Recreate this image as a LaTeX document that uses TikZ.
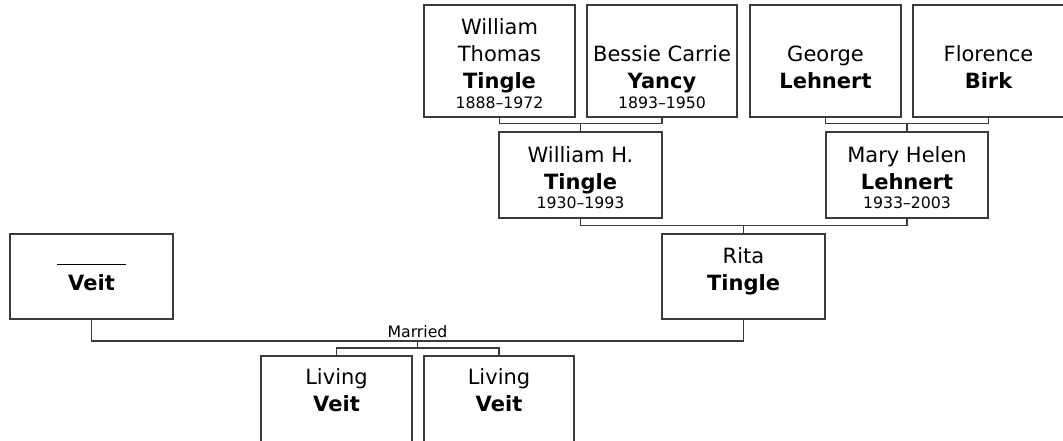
\documentclass[tikz,border=0pt]{standalone}
\usepackage{fontspec}
\setmainfont{DejaVu Sans}
\usetikzlibrary{calc}
\definecolor{lc}{HTML}{3A3A3A}
\begin{document}
\begin{tikzpicture}[x=0.75pt,y=-0.75pt,
  pbox/.style 2 args={draw=lc,line width=1.1pt,inner sep=0pt,minimum width={#1*0.75pt},minimum height={#2*0.75pt}},
  nm/.style={anchor=base,inner sep=0pt,font=\fontsize{15.75pt}{19pt}\selectfont},
  sn/.style={anchor=base,inner sep=0pt,font=\fontsize{15.75pt}{19pt}\selectfont\bfseries},
  dt/.style={anchor=base,inner sep=0pt,font=\fontsize{11.8pt}{14pt}\selectfont},
  conn/.style={draw=lc,line width=1.1pt}]
\useasboundingbox (0,0) rectangle (1063,440);
\clip (0,0) rectangle (1063,440);
% boxes
\node[pbox={151}{112}] (wt) at (499.5,61) {};
\node[pbox={150}{112}] (bc) at (662,61) {};
\node[pbox={151}{112}] (gl) at (825.5,61) {};
\node[pbox={151}{112}] (fb) at (988.5,61) {};
\node[pbox={163}{86}] (wh) at (580.5,175) {};
\node[pbox={162}{86}] (mh) at (907,175) {};
\node[pbox={163}{85}] (rt) at (743.5,276.5) {};
\node[pbox={163}{85}] (vt) at (91.5,276.5) {};
\node[pbox={151}{95}] (c1) at (336.5,403.5) {};
\node[pbox={150}{95}] (c2) at (499,403.5) {};
% texts
\node[nm] (wt1) at ($(wt.south)+(0,-83)$) {William};
\node[nm] (wt2) at ($(wt.south)+(0,-56)$) {Thomas};
\node[sn] (wt3) at ($(wt.south)+(0,-29)$) {Tingle};
\node[dt] (wt4) at ($(wt.south)+(0,-9)$) {1888–1972};
\node[nm] (bc1) at ($(bc.south)+(0,-56)$) {Bessie Carrie};
\node[sn] (bc2) at ($(bc.south)+(0,-29)$) {Yancy};
\node[dt] (bc3) at ($(bc.south)+(0,-9)$) {1893–1950};
\node[nm] (gl1) at ($(gl.south)+(0,-56)$) {George};
\node[sn] (gl2) at ($(gl.south)+(0,-29)$) {Lehnert};
\node[nm] (fb1) at ($(fb.south)+(0,-56)$) {Florence};
\node[sn] (fb2) at ($(fb.south)+(0,-29)$) {Birk};
\node[nm] (wh1) at ($(wh.south)+(0,-56)$) {William H.};
\node[sn] (wh2) at ($(wh.south)+(0,-29)$) {Tingle};
\node[dt] (wh3) at ($(wh.south)+(0,-10)$) {1930–1993};
\node[nm] (mh1) at ($(mh.south)+(0,-56)$) {Mary Helen};
\node[sn] (mh2) at ($(mh.south)+(0,-29)$) {Lehnert};
\node[dt] (mh3) at ($(mh.south)+(0,-10)$) {1933–2003};
\node[nm] (rt1) at ($(rt.south)+(0,-56)$) {Rita};
\node[sn] (rt2) at ($(rt.south)+(0,-29)$) {Tingle};
\node[nm] (vt1) at ($(vt.south)+(0,-55)$) {\rule[-0.4pt]{51.75pt}{0.8pt}};
\node[sn] (vt2) at ($(vt.south)+(0,-29)$) {Veit};
\node[nm] (c1a) at ($(c1.north)+(0,29)$) {Living};
\node[sn] (c1b) at ($(c1.north)+(0,56)$) {Veit};
\node[nm] (c2a) at ($(c2.north)+(0,29)$) {Living};
\node[sn] (c2b) at ($(c2.north)+(0,56)$) {Veit};
% connectors
\coordinate (j1) at ($(wh.north)+(0,-8)$);
\draw[conn] (wt.south) |- (j1) -| (bc.south);
\draw[conn] (j1) -- (wh.north);
\coordinate (j2) at ($(mh.north)+(0,-8)$);
\draw[conn] (gl.south) |- (j2) -| (fb.south);
\draw[conn] (j2) -- (mh.north);
\coordinate (j3) at ($(rt.north)+(0,-8)$);
\draw[conn] (wh.south) |- (j3) -| (mh.south);
\draw[conn] (j3) -- (rt.north);
\coordinate (m) at (417.5,341);
\draw[conn] (vt.south) |- (m) -| (rt.south);
\node[dt] (mar) at ($(m)+(0,-4)$) {Married};
\coordinate (j4) at (417.5,348);
\draw[conn] (m) -- (j4);
\draw[conn] (c1.north) |- (j4) -| (c2.north);
\end{tikzpicture}
\end{document}
